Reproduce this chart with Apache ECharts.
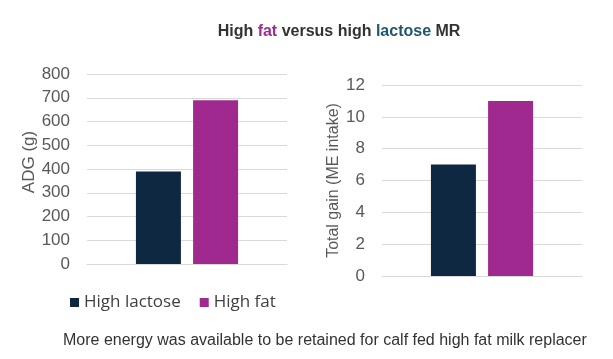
<!DOCTYPE html>
<html><head><meta charset="utf-8">
<script src="https://cdn.jsdelivr.net/npm/echarts@6/dist/echarts.min.js"></script>
<style>html,body{margin:0;padding:0;background:#fff}#c{width:613px;height:359px}</style>
</head><body><div id="c"></div>
<script>
var categories = ['MR'];
var seriesNames = ['High lactose', 'High fat'];
var adgLactose = [390];
var adgFat = [690];
var gainLactose = [7];
var gainFat = [11];
var colors = ['#0e2841', '#a0298f'];

var chart = echarts.init(document.getElementById('c'));
var FF = 'Liberation Sans, Arial, sans-serif';
var axisLabel = {color:'#595959', fontSize:17, fontFamily:FF, margin:17};
var splitLine = {lineStyle:{color:'#d9d9d9', width:1}};
chart.setOption({
  animation:false,
  title:[{
    text:'{a|High }{f|fat}{a| versus high }{l|lactose}{a| MR}',
    left:334, top:19, textAlign:'center',
    textStyle:{rich:{
      a:{fontSize:16, fontWeight:'bold', color:'#333333', fontFamily:FF},
      f:{fontSize:16, fontWeight:'bold', color:'#9b2d8e', fontFamily:FF},
      l:{fontSize:16, fontWeight:'bold', color:'#1f5570', fontFamily:FF}
    }}
  },{
    text:'More energy was available to be retained for calf fed high fat milk replacer',
    left:58, top:328,
    textStyle:{fontSize:16, fontWeight:'normal', color:'#333333', fontFamily:FF}
  }],
  legend:{
    data:seriesNames, left:65, top:289, itemWidth:9, itemHeight:9, itemGap:19, icon:'rect',
    textStyle:{fontSize:17, color:'#404040', fontFamily:'Open Sans, sans-serif'}
  },
  grid:[
    {left:87, right:326, top:74, bottom:95},
    {left:382, right:31, top:85, bottom:83}
  ],
  xAxis:[
    {type:'category', gridIndex:0, data:categories, axisLine:{show:true, lineStyle:{color:'#d9d9d9'}}, axisTick:{show:false}, axisLabel:{show:false}},
    {type:'category', gridIndex:1, data:categories, axisLine:{show:true, lineStyle:{color:'#d9d9d9'}}, axisTick:{show:false}, axisLabel:{show:false}}
  ],
  yAxis:[
    {type:'value', gridIndex:0, min:0, max:800, interval:100, axisLabel:axisLabel, splitLine:splitLine,
     name:'ADG (g)', nameLocation:'middle', nameGap:49, nameTextStyle:{fontSize:17, color:'#595959', fontFamily:FF, padding:[0,0,0,14]}},
    {type:'value', gridIndex:1, min:0, max:12, interval:2, axisLabel:axisLabel, splitLine:splitLine,
     name:'Total gain (ME intake)', nameLocation:'middle', nameGap:40, nameTextStyle:{fontSize:16, color:'#595959', fontFamily:FF}}
  ],
  series:[
    {name:seriesNames[0], type:'bar', xAxisIndex:0, yAxisIndex:0, data:adgLactose, barWidth:45, barGap:'27%', itemStyle:{color:colors[0]}},
    {name:seriesNames[1], type:'bar', xAxisIndex:0, yAxisIndex:0, data:adgFat, barWidth:45, barGap:'27%', itemStyle:{color:colors[1]}},
    {name:seriesNames[0], type:'bar', xAxisIndex:1, yAxisIndex:1, data:gainLactose, barWidth:45, barGap:'27%', itemStyle:{color:colors[0]}},
    {name:seriesNames[1], type:'bar', xAxisIndex:1, yAxisIndex:1, data:gainFat, barWidth:45, barGap:'27%', itemStyle:{color:colors[1]}}
  ]
});
</script></body></html>
